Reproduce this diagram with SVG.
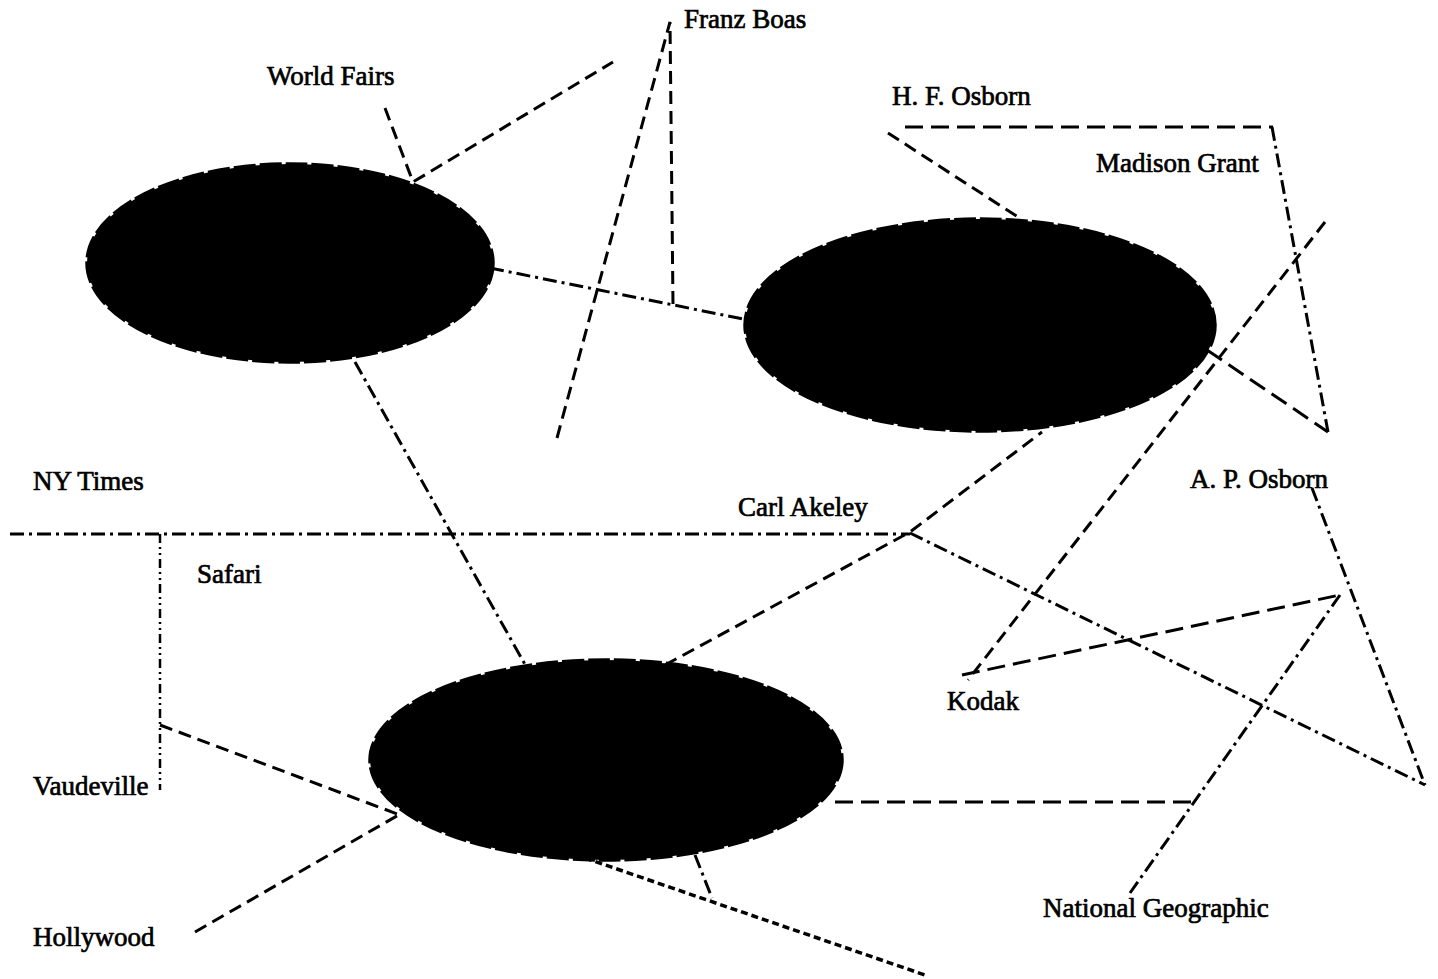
<svg xmlns="http://www.w3.org/2000/svg" width="1438" height="979" viewBox="0 0 1438 979">
<style>
.lbl{font-family:"Liberation Serif","Times New Roman",serif;font-size:27px;fill:#000;stroke:#000;stroke-width:0.7}
.blob{fill:#000;stroke:#000;stroke-width:3.5;stroke-dasharray:22 4}
.c{fill:none;stroke:#000;stroke-width:3}
.dash{stroke-dasharray:13 7}
.ldash{stroke-dasharray:18 8}
.dd{stroke-dasharray:14 5 3 5}
.ddd{stroke-dasharray:9 4 2 4 2 4;stroke-width:2.5}
.dot{stroke-dasharray:7 4;stroke-width:3.5}
</style>
<rect width="1438" height="979" fill="#fff"/>
<g id="connectors">
  <polyline class="c dash" points="385,108 413,182 613,62"/>
  <line class="c dd" x1="490" y1="268" x2="748" y2="320"/>
  <polyline class="c dash" points="557,438 670,22 673,305"/>
  <line class="c dash" x1="888" y1="133" x2="1018" y2="217"/>
  <line class="c ldash" x1="905" y1="127" x2="1273" y2="127"/>
  <line class="c dd" x1="1272" y1="127" x2="1328" y2="432"/>
  <line class="c ldash" x1="1207" y1="350" x2="1328" y2="432"/>
  <line class="c dash" x1="1325" y1="222" x2="968" y2="680"/>
  <polyline class="c dash" points="665,665 910,532 1042,432"/>
  <line class="c dd" x1="10" y1="534" x2="910" y2="534"/>
  <line class="c dd" x1="910" y1="533" x2="1425" y2="785"/>
  <line class="c dd" x1="1312" y1="488" x2="1425" y2="785"/>
  <line class="c ldash" x1="962" y1="675" x2="1340" y2="595"/>
  <line class="c dd" x1="1340" y1="595" x2="1130" y2="893"/>
  <line class="c ldash" x1="835" y1="802" x2="1197" y2="802"/>
  <polyline class="c ddd" points="160,534 160,790"/>
  <line class="c dash" x1="160" y1="725" x2="400" y2="815"/>
  <line class="c dd" x1="355" y1="362" x2="527" y2="668"/>
  <line class="c dash" x1="195" y1="932" x2="402" y2="813"/>
  <line class="c dot" x1="585" y1="858" x2="925" y2="975"/>
  <line class="c dd" x1="695" y1="855" x2="712" y2="898"/>
</g>
<g id="node-a"><ellipse class="blob" cx="290" cy="263" rx="203" ry="99"/></g>
<g id="node-b"><ellipse class="blob" cx="980" cy="325" rx="235" ry="106"/></g>
<g id="node-c"><ellipse class="blob" cx="606" cy="760" rx="236" ry="100"/></g>
<g id="label-world-fairs"><text class="lbl" x="267" y="85">World Fairs</text></g>
<g id="label-franz-boas"><text class="lbl" x="684" y="28">Franz Boas</text></g>
<g id="label-hf-osborn"><text class="lbl" x="892" y="105">H. F. Osborn</text></g>
<g id="label-madison-grant"><text class="lbl" x="1096" y="172">Madison Grant</text></g>
<g id="label-ny-times"><text class="lbl" x="33" y="490">NY Times</text></g>
<g id="label-carl-akeley"><text class="lbl" x="738" y="516">Carl Akeley</text></g>
<g id="label-ap-osborn"><text class="lbl" x="1190" y="488">A. P. Osborn</text></g>
<g id="label-safari"><text class="lbl" x="197" y="583">Safari</text></g>
<g id="label-kodak"><text class="lbl" x="947" y="710">Kodak</text></g>
<g id="label-vaudeville"><text class="lbl" x="33" y="795">Vaudeville</text></g>
<g id="label-national-geographic"><text class="lbl" x="1043" y="917">National Geographic</text></g>
<g id="label-hollywood"><text class="lbl" x="33" y="946">Hollywood</text></g>
</svg>
